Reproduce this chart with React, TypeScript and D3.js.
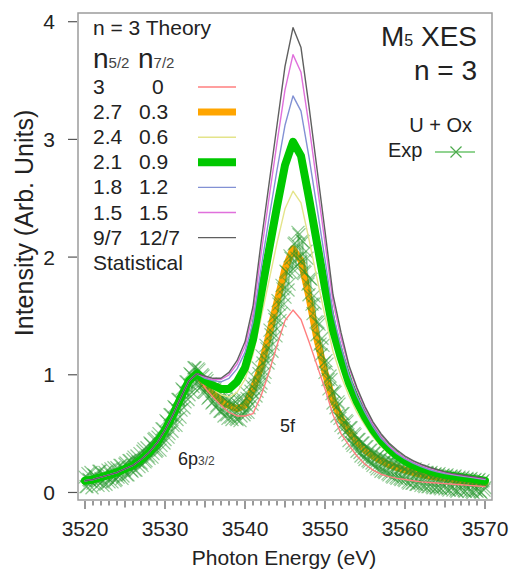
import React, { useEffect, useRef } from 'react';
import * as d3 from 'd3';

// theory grid (eV)
const energies = [
  3520, 3521, 3522, 3523, 3524, 3525, 3526, 3527, 3528, 3529,
  3530, 3531, 3532, 3533, 3534, 3535, 3536, 3537, 3538, 3539,
  3540, 3541, 3542, 3543, 3544, 3545, 3546, 3547, 3548, 3549,
  3550, 3551, 3552, 3553, 3554, 3555, 3556, 3557, 3558, 3559,
  3560, 3561, 3562, 3563, 3564, 3565, 3566, 3567, 3568, 3569, 3570,
];

// 3520-3533: all theory curves sit on top of each other
const sharedLow = [0.10, 0.11, 0.13, 0.15, 0.17, 0.20, 0.23, 0.28, 0.34, 0.42, 0.53, 0.66, 0.81, 0.95];

// 3534-3570 for each n5/2 / n7/2 split
const red3_0 = [1.01, 0.89, 0.81, 0.74, 0.68, 0.65, 0.65, 0.67, 0.82, 1.02, 1.25, 1.46, 1.55, 1.47, 1.28, 1.08, 0.88, 0.66, 0.50, 0.40, 0.31, 0.24, 0.19, 0.155, 0.135, 0.12, 0.11, 0.10, 0.09, 0.085, 0.08, 0.075, 0.07, 0.065, 0.06, 0.055, 0.05];
const orange27_03 = [1.01, 0.91, 0.84, 0.78, 0.74, 0.71, 0.74, 0.88, 1.07, 1.34, 1.62, 1.90, 2.07, 1.97, 1.66, 1.30, 1.02, 0.78, 0.63, 0.52, 0.43, 0.36, 0.31, 0.27, 0.235, 0.21, 0.19, 0.17, 0.155, 0.14, 0.13, 0.12, 0.11, 0.10, 0.095, 0.09, 0.085];
const yellow24_06 = [1.01, 0.93, 0.88, 0.83, 0.81, 0.85, 0.96, 1.17, 1.48, 1.80, 2.12, 2.41, 2.56, 2.46, 2.15, 1.82, 1.50, 1.20, 0.99, 0.82, 0.68, 0.57, 0.47, 0.39, 0.33, 0.28, 0.24, 0.21, 0.19, 0.17, 0.155, 0.14, 0.13, 0.12, 0.11, 0.10, 0.095];
const green21_09 = [1.01, 0.95, 0.91, 0.88, 0.88, 0.94, 1.06, 1.30, 1.68, 2.06, 2.43, 2.78, 2.98, 2.86, 2.50, 2.12, 1.74, 1.38, 1.14, 0.93, 0.77, 0.64, 0.53, 0.44, 0.37, 0.31, 0.265, 0.23, 0.205, 0.185, 0.165, 0.15, 0.14, 0.13, 0.12, 0.11, 0.10];
const blue18_12 = [1.01, 0.97, 0.95, 0.94, 0.97, 1.05, 1.19, 1.45, 1.90, 2.33, 2.74, 3.12, 3.37, 3.24, 2.85, 2.42, 1.98, 1.52, 1.24, 1.00, 0.82, 0.68, 0.56, 0.46, 0.39, 0.33, 0.285, 0.25, 0.22, 0.195, 0.175, 0.16, 0.15, 0.14, 0.13, 0.12, 0.11];
const pink15_15 = [1.01, 0.98, 0.96, 0.96, 1.00, 1.09, 1.24, 1.52, 2.02, 2.50, 2.97, 3.42, 3.72, 3.57, 3.12, 2.62, 2.12, 1.62, 1.31, 1.06, 0.87, 0.71, 0.58, 0.48, 0.40, 0.34, 0.295, 0.26, 0.23, 0.205, 0.185, 0.17, 0.155, 0.145, 0.135, 0.125, 0.115];
const grayStat = [1.01, 0.99, 0.97, 0.97, 1.02, 1.12, 1.28, 1.58, 2.12, 2.62, 3.12, 3.62, 3.95, 3.78, 3.28, 2.75, 2.22, 1.68, 1.36, 1.08, 0.89, 0.73, 0.60, 0.50, 0.42, 0.36, 0.31, 0.27, 0.24, 0.215, 0.195, 0.175, 0.16, 0.15, 0.14, 0.13, 0.12];

// experiment U + Ox, two interleaved scans, 0.25 eV steps
const expStepEV = 0.25;
const expStartA = 3520;
const expIntensityA = [
  0.13, 0.05, 0.11, 0.17, 0.08, 0.14, 0.10, 0.18, 0.12, 0.06, 0.17, 0.13,
  0.09, 0.20, 0.14, 0.10, 0.21, 0.15, 0.23, 0.14, 0.24, 0.15, 0.27, 0.19,
  0.28, 0.19, 0.31, 0.22, 0.25, 0.35, 0.26, 0.38, 0.29, 0.41, 0.33, 0.46,
  0.36, 0.50, 0.40, 0.54, 0.45, 0.60, 0.50, 0.66, 0.57, 0.72, 0.62, 0.79,
  0.70, 0.87, 0.77, 0.94, 0.83, 1.00, 0.90, 1.06, 0.94, 1.04, 0.90, 0.99,
  0.85, 0.95, 0.81, 0.91, 0.77, 0.88, 0.74, 0.84, 0.69, 0.81, 0.71, 0.66,
  0.78, 0.64, 0.75, 0.67, 0.62, 0.74, 0.65, 0.77, 0.68, 0.80, 0.72, 0.86,
  0.79, 0.92, 0.86, 1.01, 0.93, 1.10, 1.02, 1.22, 1.14, 1.34, 1.26, 1.47,
  1.39, 1.60, 1.52, 1.73, 1.66, 1.87, 1.77, 1.99, 1.90, 2.12, 1.99, 2.19,
  1.96, 2.13, 1.87, 1.99, 1.68, 1.81, 1.52, 1.61, 1.34, 1.43, 1.17, 1.25,
  1.02, 1.09, 0.88, 0.96, 0.76, 0.85, 0.65, 0.75, 0.57, 0.67, 0.51, 0.60,
  0.44, 0.55, 0.40, 0.49, 0.35, 0.45, 0.31, 0.42, 0.28, 0.39, 0.26, 0.36,
  0.23, 0.34, 0.20, 0.32, 0.18, 0.30, 0.17, 0.28, 0.15, 0.27, 0.13, 0.25,
  0.12, 0.24, 0.11, 0.22, 0.10, 0.22, 0.08, 0.20, 0.08, 0.20, 0.07, 0.18,
  0.06, 0.19, 0.05, 0.17, 0.05, 0.17, 0.04, 0.16, 0.04, 0.16, 0.03, 0.15,
  0.03, 0.15, 0.02, 0.14, 0.02, 0.14, 0.01, 0.13, 0.02, 0.13, 0.01, 0.12,
  0.01, 0.12, 0.00, 0.11, 0.01, 0.11, 0.00, 0.10, 0.04,
];
const expStartB = 3520.125;
const expIntensityB = [
  0.05, 0.16, 0.10, 0.04, 0.15, 0.11, 0.06, 0.18, 0.09, 0.15, 0.07, 0.19,
  0.16, 0.09, 0.21, 0.11, 0.13, 0.23, 0.12, 0.19, 0.25, 0.15, 0.27, 0.18,
  0.30, 0.19, 0.26, 0.33, 0.23, 0.37, 0.27, 0.31, 0.42, 0.30, 0.45, 0.35,
  0.47, 0.36, 0.54, 0.42, 0.61, 0.47, 0.66, 0.52, 0.73, 0.57, 0.79, 0.64,
  0.88, 0.72, 0.94, 0.79, 1.01, 0.85, 1.06, 0.91, 1.05, 0.89, 1.00, 0.86,
  0.97, 0.80, 0.92, 0.76, 0.89, 0.72, 0.85, 0.69, 0.82, 0.65, 0.80, 0.63,
  0.79, 0.62, 0.78, 0.63, 0.79, 0.61, 0.80, 0.66, 0.85, 0.68, 0.92, 0.75,
  0.98, 0.82, 1.06, 0.90, 1.16, 0.98, 1.25, 1.10, 1.38, 1.20, 1.50, 1.33,
  1.63, 1.46, 1.76, 1.60, 1.88, 1.72, 2.01, 1.86, 2.11, 1.92, 2.21, 2.00,
  2.14, 1.88, 2.05, 1.77, 1.82, 1.60, 1.67, 1.45, 1.45, 1.26, 1.31, 1.10,
  1.12, 0.96, 0.99, 0.84, 0.86, 0.72, 0.77, 0.63, 0.67, 0.55, 0.61, 0.49,
  0.55, 0.42, 0.50, 0.39, 0.45, 0.34, 0.42, 0.30, 0.39, 0.27, 0.36, 0.25,
  0.34, 0.22, 0.31, 0.20, 0.30, 0.18, 0.28, 0.16, 0.27, 0.14, 0.25, 0.13,
  0.24, 0.12, 0.22, 0.11, 0.21, 0.09, 0.20, 0.08, 0.19, 0.07, 0.18, 0.08,
  0.17, 0.06, 0.17, 0.05, 0.16, 0.05, 0.15, 0.04, 0.15, 0.04, 0.14, 0.05,
  0.14, 0.03, 0.13, 0.04, 0.13, 0.02, 0.12, 0.03, 0.12, 0.02, 0.11, 0.03,
  0.11, 0.01, 0.10, 0.02, 0.10, 0.01, 0.09, 0.02,
];

const n52Labels = ['3', '2.7', '2.4', '2.1', '1.8', '1.5', '9/7'];
const n72Labels = ['0', '0.3', '0.6', '0.9', '1.2', '1.5', '12/7'];
const xTicks = [3520, 3530, 3540, 3550, 3560, 3570];
const yTicks = [0, 1, 2, 3, 4];

const theorySeries = [red3_0, orange27_03, yellow24_06, green21_09, blue18_12, pink15_15, grayStat];
const theoryStyle = [
  { color: '#ff7f7f', width: 1.4 },
  { color: '#ffa500', width: 7 },
  { color: '#e4e48a', width: 1.4 },
  { color: '#00c800', width: 8 },
  { color: '#8291d4', width: 1.4 },
  { color: '#e070dc', width: 1.4 },
  { color: '#5f5f5f', width: 1.4 },
];
const expColor = '#22962a';

const FONT = "'Liberation Sans', Arial, sans-serif";

const XesChart = () => {
  const svgRef = useRef(null);

  useEffect(() => {
    const svg = d3.select(svgRef.current);
    svg.selectAll('*').remove();

    const left = 78, right = 492, top = 13, bottom = 500;
    const x = d3.scaleLinear().domain([3519.125, 3570.875]).range([left, right]);
    const y = d3.scaleLinear().domain([-0.064, 4.074]).range([bottom, top]);

    svg.append('defs').append('clipPath').attr('id', 'plotclip')
      .append('rect').attr('x', left).attr('y', top)
      .attr('width', right - left).attr('height', bottom - top);

    const plot = svg.append('g').attr('clip-path', 'url(#plotclip)');

    const line = d3.line()
      .x((d) => x(d[0]))
      .y((d) => y(d[1]))
      .curve(d3.curveLinear);

    const curvePoints = (vals) => energies.map((e, i) => [e, sharedLow.concat(vals)[i]]);

    const drawTheory = (i) => {
      plot.append('path')
        .datum(curvePoints(theorySeries[i]))
        .attr('d', line)
        .attr('fill', 'none')
        .attr('stroke', theoryStyle[i].color)
        .attr('stroke-width', theoryStyle[i].width)
        .attr('stroke-linejoin', 'round')
        .attr('stroke-linecap', 'round');
    };

    // orange under the experiment, the rest on top
    drawTheory(1);

    const scanA = expIntensityA.map((v, i) => [expStartA + i * expStepEV, v]);
    const scanB = expIntensityB.map((v, i) => [expStartB + i * expStepEV, v]);

    [scanA, scanB].forEach((scan) => {
      plot.append('path')
        .datum(scan)
        .attr('d', line)
        .attr('fill', 'none')
        .attr('stroke', expColor)
        .attr('stroke-opacity', 0.35)
        .attr('stroke-width', 1);
    });

    const xm = 6.5;
    plot.selectAll('.expmark')
      .data(scanA.concat(scanB))
      .enter()
      .append('path')
      .attr('class', 'expmark')
      .attr('transform', (d) => `translate(${x(d[0])},${y(d[1])})`)
      .attr('d', `M${-xm},${-xm}L${xm},${xm}M${-xm},${xm}L${xm},${-xm}`)
      .attr('stroke', expColor)
      .attr('stroke-opacity', 0.5)
      .attr('stroke-width', 1.2)
      .attr('fill', 'none');

    [0, 2, 3, 4, 5, 6].forEach(drawTheory);

    // frame
    svg.append('rect')
      .attr('x', left).attr('y', top)
      .attr('width', right - left).attr('height', bottom - top)
      .attr('fill', 'none')
      .attr('stroke', '#9c9c9c')
      .attr('stroke-width', 1.5);

    // x ticks: 1 eV minor, 5 eV medium, 10 eV major
    const tickG = svg.append('g').attr('stroke', '#555').attr('stroke-width', 1.2);
    d3.range(3520, 3571, 1).forEach((e) => {
      const len = e % 10 === 0 ? 8 : e % 5 === 0 ? 6.5 : 4.5;
      tickG.append('line')
        .attr('x1', x(e)).attr('x2', x(e))
        .attr('y1', bottom + 1).attr('y2', bottom + 1 + len);
    });
    yTicks.forEach((v) => {
      tickG.append('line')
        .attr('x1', left - 10).attr('x2', left - 1)
        .attr('y1', y(v)).attr('y2', y(v));
    });

    svg.selectAll('.xlab')
      .data(xTicks)
      .enter()
      .append('text')
      .attr('x', (d) => x(d))
      .attr('y', 536)
      .attr('text-anchor', 'middle')
      .attr('font-size', 21)
      .attr('fill', '#222')
      .text((d) => d);

    svg.selectAll('.ylab')
      .data(yTicks)
      .enter()
      .append('text')
      .attr('x', 55)
      .attr('y', (d) => y(d) + 7.5)
      .attr('text-anchor', 'end')
      .attr('font-size', 21)
      .attr('fill', '#222')
      .text((d) => d);

    svg.append('text')
      .attr('x', 284).attr('y', 565)
      .attr('text-anchor', 'middle')
      .attr('font-size', 21)
      .attr('fill', '#222')
      .text('Photon Energy (eV)');

    svg.append('text')
      .attr('transform', 'translate(33,223) rotate(-90)')
      .attr('text-anchor', 'middle')
      .attr('font-size', 25)
      .attr('fill', '#222')
      .text('Intensity (Arb. Units)');

    // theory legend
    const leg = svg.append('g').attr('fill', '#222');
    leg.append('text').attr('x', 93).attr('y', 35).attr('font-size', 21).text('n = 3 Theory');
    const head = leg.append('text').attr('x', 93).attr('y', 68);
    head.append('tspan').attr('font-size', 28).text('n');
    head.append('tspan').attr('font-size', 15).attr('fill', '#444').text('5/2');
    const head2 = leg.append('text').attr('x', 138).attr('y', 68);
    head2.append('tspan').attr('font-size', 28).text('n');
    head2.append('tspan').attr('font-size', 15).attr('fill', '#444').text('7/2');

    n52Labels.forEach((lab, i) => {
      const by = 94 + i * 25.1;
      leg.append('text').attr('x', 93).attr('y', by).attr('font-size', 21).text(lab);
      const l2 = n72Labels[i];
      leg.append('text').attr('x', l2.length === 1 ? 152 : 139).attr('y', by).attr('font-size', 21).text(l2);
      leg.append('line')
        .attr('x1', 198).attr('x2', 236)
        .attr('y1', by - 7).attr('y2', by - 7)
        .attr('stroke', theoryStyle[i].color)
        .attr('stroke-width', theoryStyle[i].width);
    });
    leg.append('text').attr('x', 93).attr('y', 270).attr('font-size', 21).text('Statistical');

    // top right labels
    const m5 = svg.append('text').attr('x', 477).attr('y', 46).attr('text-anchor', 'end').attr('fill', '#222');
    m5.append('tspan').attr('font-size', 28).text('M');
    m5.append('tspan').attr('font-size', 16).text('5');
    m5.append('tspan').attr('font-size', 28).text(' XES');
    svg.append('text').attr('x', 477).attr('y', 80).attr('text-anchor', 'end')
      .attr('font-size', 28).attr('fill', '#222').text('n = 3');
    svg.append('text').attr('x', 472).attr('y', 132).attr('text-anchor', 'end')
      .attr('font-size', 20).attr('fill', '#222').text('U + Ox');
    svg.append('text').attr('x', 388).attr('y', 157)
      .attr('font-size', 20).attr('fill', '#222').text('Exp');
    svg.append('line')
      .attr('x1', 435).attr('x2', 475).attr('y1', 152).attr('y2', 152)
      .attr('stroke', '#6cc46c').attr('stroke-width', 1.5);
    svg.append('path')
      .attr('transform', 'translate(456,152)')
      .attr('d', 'M-5.5,-5.5L5.5,5.5M-5.5,5.5L5.5,-5.5')
      .attr('stroke', '#4caa4c').attr('stroke-width', 1.2).attr('fill', 'none');

    // peak labels
    const p6 = svg.append('text').attr('x', 178).attr('y', 465).attr('fill', '#222');
    p6.append('tspan').attr('font-size', 18).text('6p');
    p6.append('tspan').attr('font-size', 12).attr('fill', '#444').text('3/2');
    svg.append('text').attr('x', 280).attr('y', 432).attr('font-size', 18).attr('fill', '#222').text('5f');
  }, []);

  return (
    <svg
      ref={svgRef}
      width={511}
      height={570}
      style={{ position: 'absolute', left: 0, top: 0, background: '#fff', fontFamily: FONT }}
    />
  );
};

export default function App() {
  return <XesChart />;
}
